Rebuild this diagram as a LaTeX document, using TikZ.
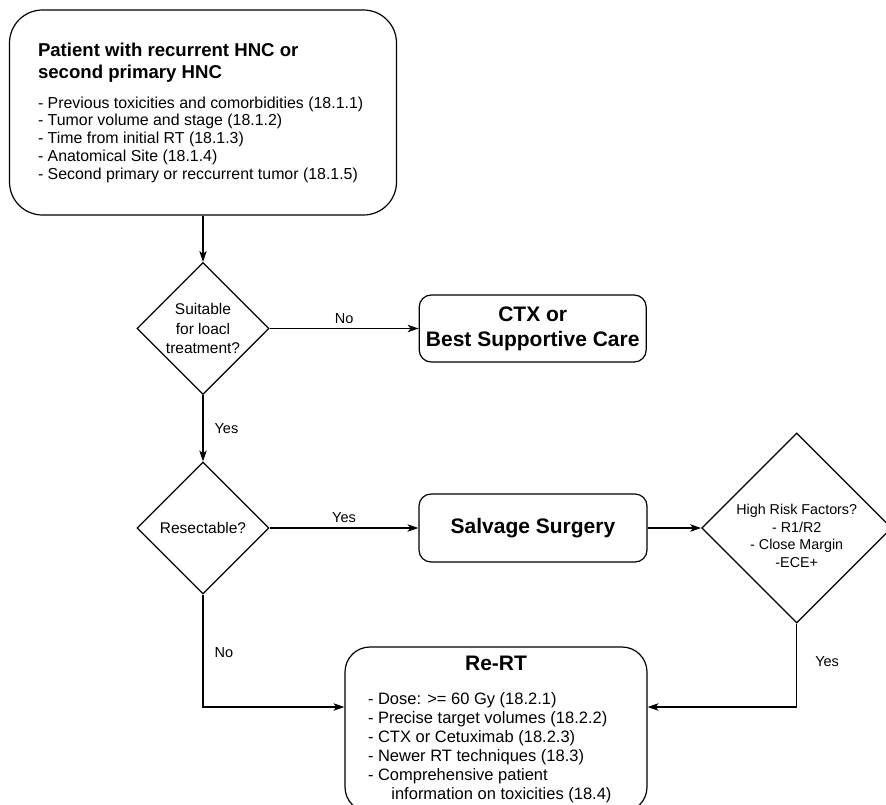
\documentclass[tikz,border=0pt]{standalone}
\usepackage{fontspec}
\setmainfont{Liberation Sans}
\usetikzlibrary{arrows.meta,shapes,positioning}

\newcommand\titlefont{\fontsize{18.6}{22}\selectfont\bfseries}
\newcommand\itemfont{\fontsize{15.9}{17.7}\selectfont}
\newcommand\rtfont{\fontsize{16.5}{19}\selectfont}
\newcommand\bigfont{\fontsize{21}{25}\selectfont\bfseries}
\newcommand\askfont{\fontsize{15.5}{19.5}\selectfont}
\newcommand\riskfont{\fontsize{14.3}{17.5}\selectfont}
\newcommand\edgefont{\fontsize{14.5}{17}\selectfont}

\begin{document}
\begin{tikzpicture}[x=1pt,y=-1pt,line width=1.2pt,
    >={Stealth[length=11pt,width=7.5pt,inset=3pt]},
    box/.style={draw,rounded corners=12pt,inner sep=0pt},
    decision/.style={draw,diamond,inner sep=0pt,aspect=1},
    tag/.style={font=\edgefont,inner sep=1pt}]
    \useasboundingbox (0,0) rectangle (886,804);

    \node[box,rounded corners=33pt,minimum width=387pt,minimum height=205pt] (patient) at (203,112.5) {\begin{minipage}{330pt}
        {\titlefont Patient with recurrent HNC or\\second primary HNC\par}
        \vspace{12.5pt}
        {\itemfont - Previous toxicities and comorbidities (18.1.1)\\
        - Tumor volume and stage (18.1.2)\\
        - Time from initial RT (18.1.3)\\
        - Anatomical Site (18.1.4)\\
        - Second primary or reccurrent tumor (18.1.5)\par}
    \end{minipage}};

    \node[decision,minimum size=132pt,label={[font=\askfont,align=center]center:Suitable\\for loacl\\treatment?}] (suitable) at (203,328.5) {};
    \node[box,minimum width=227pt,minimum height=67pt,font=\bigfont,align=center] (ctx) at (532.7,328.5) {CTX or\\Best Supportive Care};

    \node[decision,minimum size=132pt,label={[font=\askfont]center:Resectable?}] (resect) at (203,528) {};
    \node[box,minimum width=228pt,minimum height=68pt,font=\bigfont] (salvage) at (533,528) {Salvage Surgery};
    \node[decision,minimum size=190pt,label={[font=\riskfont,align=center,yshift=-8pt]center:High Risk Factors?\\- R1/R2\\- Close Margin\\-ECE+}] (risk) at (796.7,528) {};

    \node[box,rounded corners=25pt,minimum width=302pt,minimum height=165pt] (rert) at (496,729.5) {\begin{minipage}{256pt}
        \centering{\bigfont Re-RT\par}
        \vspace{15.8pt}
        \raggedright\rtfont
        - Dose: >= 60 Gy (18.2.1)\\
        - Precise target volumes (18.2.2)\\
        - CTX or Cetuximab (18.2.3)\\
        - Newer RT techniques (18.3)\\
        - Comprehensive patient\\
        \hspace*{23.4pt}information on toxicities (18.4)\par
    \end{minipage}};

    \draw[->] (patient) -- (suitable);
    \draw[->] (suitable) -- (ctx) node[tag,midway,above=3pt] {No};
    \draw[->] (suitable) -- (resect) node[tag,midway,right=10pt] {Yes};
    \draw[->] (resect) -- (salvage) node[tag,midway,above=4pt] {Yes};
    \draw[->] (salvage) -- (risk);
    \draw[->] (resect) |- ([yshift=22.5pt]rert.west) node[tag,pos=0.26,right=10pt] {No};
    \draw[->] (risk) |- ([yshift=22.5pt]rert.east) node[tag,pos=0.23,right=17pt] {Yes};

\end{tikzpicture}
\end{document}
